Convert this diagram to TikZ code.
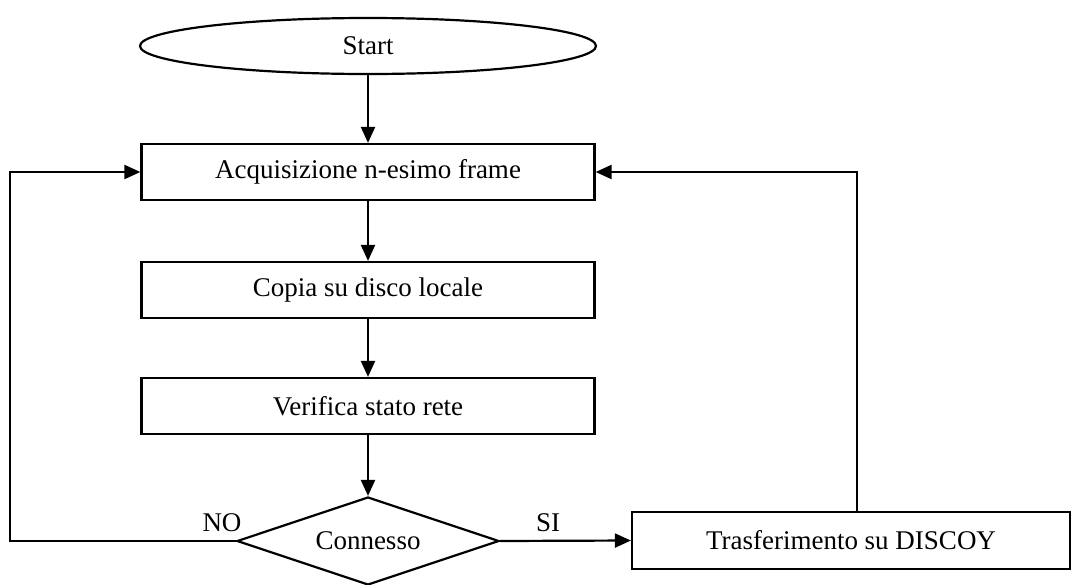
\documentclass[tikz,border=0pt]{standalone}
\usepackage{fontspec}
\setmainfont{Liberation Serif}
\usetikzlibrary{shapes.geometric,arrows.meta}
\tikzset{
  flowline/.style={line width=2.2pt, -{Triangle[length=16pt,width=14pt]}},
  stepbox/.style={draw, line width=2.2pt, rectangle, inner sep=0pt, minimum width=453pt, minimum height=56pt},
  startoval/.style={draw, line width=2.2pt, ellipse, inner sep=0pt, minimum width=456pt, minimum height=56pt},
  testdiamond/.style={draw, line width=2.2pt, diamond, aspect=3, inner sep=0pt, minimum width=262pt, minimum height=88pt},
}
\begin{document}
\begin{tikzpicture}[x=1pt,y=-1pt]
  \useasboundingbox (0,0) rectangle (1075,584);
  {\fontsize{27}{30}\selectfont

  % Marking start
  \node (start) at (368.000000,46.000000) [startoval] {Start};%

  % Marking steps
  \node (acq) at (368.000000,172.000000) [stepbox] {Acquisizione n-esimo frame};%
  \node (copy) at (368.000000,290.000000) [stepbox] {Copia su disco locale};%
  \node (check) at (368.000000,406.000000) [stepbox] {Verifica stato rete};%

  % Marking test
  \node (conn) at (368.000000,541.000000) [testdiamond] {Connesso};%

  % Marking transfer
  \node (xfer) at (851.000000,540.500000) [stepbox, minimum width=438pt, minimum height=57pt] {Trasferimento su DISCOY};%

  % Drawing main line
  \draw [flowline] (start) -- (acq);%
  \draw [flowline] (acq) -- (copy);%
  \draw [flowline] (copy) -- (check);%
  \draw [flowline] (check) -- (conn);%

  % Drawing branch SI
  \draw [flowline] (conn.east) -- (xfer.west);%
  \node (si) at (548.000000,523.000000) {SI};%

  % Drawing branch NO
  \coordinate (noturn) at (10.000000,541.000000);%
  \draw [flowline] (conn.west) -- (noturn) |- (acq.west);%
  \node (no) at (222.000000,523.000000) {NO};%

  % Drawing back line
  \draw [flowline] ([xshift=6pt]xfer.north) |- (acq.east);%
  }
\end{tikzpicture}
\end{document}
